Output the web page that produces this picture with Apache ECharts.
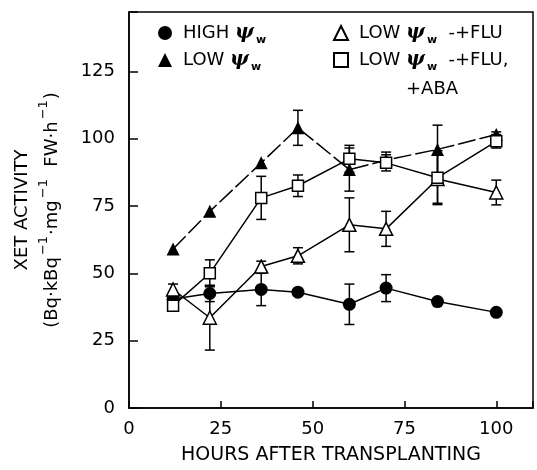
<!DOCTYPE html>
<html lang="en">
<head>
<meta charset="UTF-8">
<script src="https://cdn.jsdelivr.net/npm/echarts@6/dist/echarts.min.js"></script>
<title>XET activity</title>
<style>html,body{margin:0;padding:0;background:#fff;}</style>
</head>
<body>
<div id="main" style="width:537px;height:470px;"></div>
<script type="text/javascript">
// hours after transplanting
var hours = [12, 22, 36, 46, 60, 70, 84, 100];
// XET activity means and error bars (0 = no bar visible)
var highVals   = [40.5, 42.5, 44, 43, 38.5, 44.5, 39.5, 35.5];
var highErr    = [2, 3, 6, 0, 7.5, 5, 0, 0];
var lowVals    = [59, 73, 91, 104, 88.5, 92, 96, 101.5];
var lowErr     = [0, 0, 0, 6.5, 8, 3, 9, 1];
var fluVals    = [44, 33.5, 52.5, 56.5, 68, 66.5, 85, 80];
var fluErr     = [2, 12, 2, 3, 10, 6.5, 9, 4.6];
var abaVals    = [38, 50, 78, 82.5, 92.5, 91, 85.5, 99];
var abaErr     = [2, 5, 8, 4, 5, 3, 10, 2.5];
var yTicks = [0, 25, 50, 75, 100, 125];
var xTicks = [0, 25, 50, 75, 100];

var FONT = 'DejaVu Sans';

function pairs(vals) {
    var out = [];
    for (var i = 0; i < hours.length; i++) out.push([hours[i], vals[i]]);
    return out;
}
function errData(vals, errs) {
    var out = [];
    for (var i = 0; i < hours.length; i++) {
        if (errs[i] > 0) out.push([hours[i], vals[i] - errs[i], vals[i] + errs[i]]);
    }
    return out;
}
function renderErr(params, api) {
    var x = api.value(0);
    var lo = api.coord([x, api.value(1)]);
    var hi = api.coord([x, api.value(2)]);
    var w = 5;
    var st = {stroke: '#000', lineWidth: 1.5};
    return {type: 'group', children: [
        {type: 'line', shape: {x1: lo[0], y1: lo[1], x2: hi[0], y2: hi[1]}, style: st},
        {type: 'line', shape: {x1: lo[0] - w, y1: lo[1], x2: lo[0] + w, y2: lo[1]}, style: st},
        {type: 'line', shape: {x1: hi[0] - w, y1: hi[1], x2: hi[0] + w, y2: hi[1]}, style: st}
    ]};
}
function errSeries(vals, errs) {
    return {
        type: 'custom', renderItem: renderErr, z: 1, silent: true,
        encode: {x: 0, y: [1, 2]}, data: errData(vals, errs)
    };
}

var labels = {
    'HIGH': '{f|HIGH }{psi|ψ}{w|w}',
    'LOW': '{f|LOW }{psi|ψ}{w|w}',
    'LOW+FLU': '{f|LOW }{psi|ψ}{w|w}{t|  -+FLU}',
    'LOW+FLU+ABA': '{f|LOW }{psi|ψ}{w|w}{t|  -+FLU,}'
};
var legendRich = {
    f: {fontFamily: FONT, fontSize: 18, color: '#000', lineHeight: 26, verticalAlign: 'middle', padding: [0, 0, 0, 6]},
    t: {fontFamily: FONT, fontSize: 18, color: '#000', lineHeight: 26, verticalAlign: 'middle'},
    psi: {fontFamily: 'DejaVu Serif', fontSize: 20, fontWeight: 'bold', fontStyle: 'italic', color: '#000',
          lineHeight: 26, verticalAlign: 'middle'},
    w: {fontFamily: FONT, fontSize: 11, fontWeight: 'bold', color: '#000', lineHeight: 12,
        verticalAlign: 'bottom', padding: [0, 0, 0, 2]}
};

var myChart = echarts.init(document.getElementById('main'));

var lineBase = {
    type: 'line', z: 2, symbolSize: 13,
    lineStyle: {color: '#000', width: 1.5},
    emphasis: {disabled: true}
};

var option = {
    backgroundColor: '#fff',
    animation: false,
    grid: {left: 129, right: 4, top: 12, bottom: 59, show: true, borderColor: '#000', borderWidth: 1.5},
    legend: [
        {
            data: [{name: 'HIGH', icon: 'circle'}, {name: 'LOW', icon: 'triangle'}],
            orient: 'vertical', left: 153, top: 18, itemGap: 4,
            itemWidth: 14, itemHeight: 14,
            formatter: function (n) { return labels[n]; },
            textStyle: {rich: legendRich}
        },
        {
            data: [{name: 'LOW+FLU', icon: 'triangle'}, {name: 'LOW+FLU+ABA', icon: 'rect'}],
            orient: 'vertical', left: 328, top: 18, itemGap: 4,
            itemWidth: 14, itemHeight: 14,
            formatter: function (n) { return labels[n]; },
            textStyle: {rich: legendRich}
        }
    ],
    graphic: [
        {type: 'text', left: 406, top: 80, style: {text: '+ABA', font: '18px "DejaVu Sans"', fill: '#000'}}
    ],
    xAxis: {
        type: 'value', min: 0, max: 110, interval: 25,
        name: 'HOURS AFTER TRANSPLANTING', nameLocation: 'middle', nameGap: 38,
        nameTextStyle: {fontFamily: FONT, fontSize: 19, color: '#000'},
        axisLine: {lineStyle: {color: '#000', width: 1.5}},
        axisTick: {inside: true, length: 7, lineStyle: {color: '#000', width: 1.5}},
        axisLabel: {
            fontFamily: FONT, fontSize: 18, color: '#000', margin: 12,
            formatter: function (v) { return xTicks.indexOf(v) >= 0 ? String(v) : ''; }
        },
        splitLine: {show: false}
    },
    yAxis: {
        type: 'value', min: 0, max: 147, interval: 25,
        name: '{n|XET ACTIVITY}\n{p|(Bq·kBq}{s|−1}{p|·mg}{s|−1}{p|  FW·h}{s|−1}{p|)}',
        nameLocation: 'middle', nameGap: 62,
        nameTextStyle: {
            rich: {
                n: {fontFamily: FONT, fontSize: 18, color: '#000', lineHeight: 30, verticalAlign: 'middle'},
                p: {fontFamily: FONT, fontSize: 18, color: '#000', lineHeight: 30, verticalAlign: 'middle'},
                s: {fontFamily: FONT, fontSize: 13, color: '#000', lineHeight: 12, verticalAlign: 'top',
                    padding: [0, 1, 0, 2]}
            }
        },
        axisLine: {lineStyle: {color: '#000', width: 1.5}},
        axisTick: {inside: true, length: 9, lineStyle: {color: '#000', width: 1.5}},
        axisLabel: {
            fontFamily: FONT, fontSize: 18, color: '#000', margin: 14,
            formatter: function (v) { return yTicks.indexOf(v) >= 0 ? String(v) : ''; }
        },
        splitLine: {show: false}
    },
    series: [
        errSeries(highVals, highErr),
        errSeries(lowVals, lowErr),
        errSeries(fluVals, fluErr),
        errSeries(abaVals, abaErr),
        Object.assign({}, lineBase, {
            name: 'HIGH', symbol: 'circle', color: '#000',
            itemStyle: {color: '#000'}, data: pairs(highVals)
        }),
        Object.assign({}, lineBase, {
            name: 'LOW', symbol: 'triangle', color: '#000',
            itemStyle: {color: '#000'},
            lineStyle: {color: '#000', width: 1.5, type: [18, 4]},
            data: pairs(lowVals)
        }),
        Object.assign({}, lineBase, {
            name: 'LOW+FLU', symbol: 'triangle', color: '#000',
            itemStyle: {color: '#fff', borderColor: '#000', borderWidth: 1.5},
            data: pairs(fluVals)
        }),
        Object.assign({}, lineBase, {
            name: 'LOW+FLU+ABA', symbol: 'rect', symbolSize: 11, color: '#000',
            itemStyle: {color: '#fff', borderColor: '#000', borderWidth: 1.5},
            data: pairs(abaVals)
        })
    ]
};

myChart.setOption(option);
</script>
</body>
</html>
